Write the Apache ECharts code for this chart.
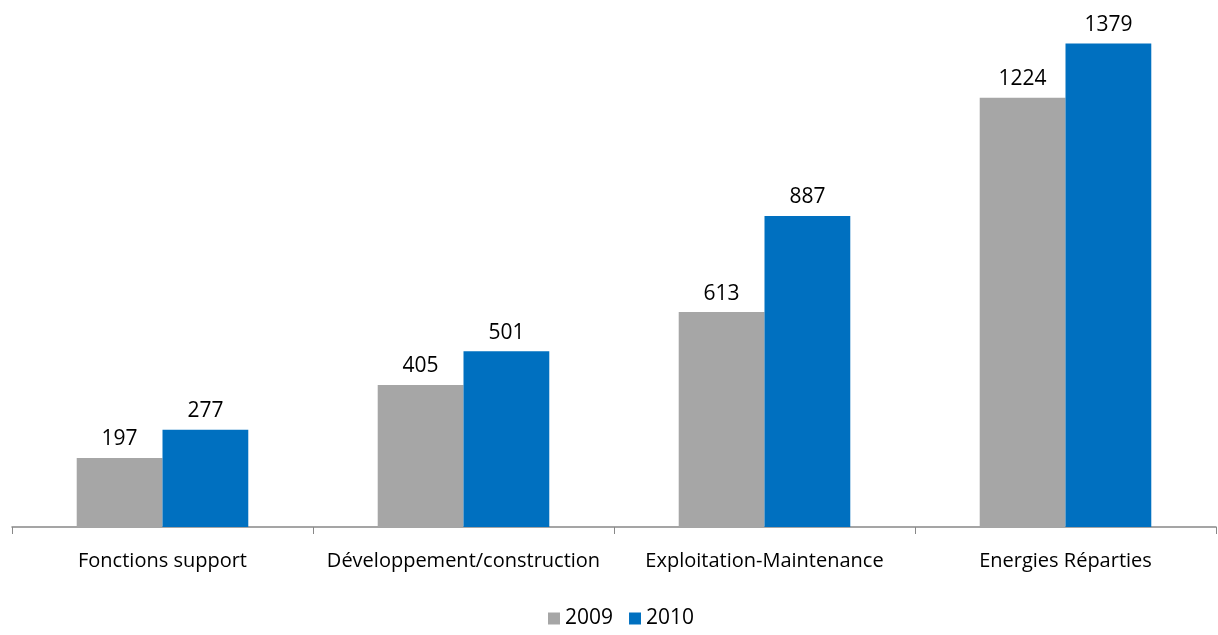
<!DOCTYPE html>
<html>
<head>
<meta charset="utf-8">
<script src="https://cdn.jsdelivr.net/npm/echarts@6/dist/echarts.min.js"></script>
<style>
  html, body { margin: 0; padding: 0; background: #fff; }
  #chart { width: 1218px; height: 635px; }
</style>
</head>
<body>
<div id="chart"></div>
<script>
// Effectifs par métier, 2009 vs 2010
const categories = ['Fonctions support', 'Développement/construction', 'Exploitation-Maintenance', 'Energies Réparties'];
const values2009 = [197, 405, 613, 1224];
const values2010 = [277, 501, 887, 1379];
const seriesNames = ['2009', '2010'];

const FONT = '"Open Sans", sans-serif';
const chart = echarts.init(document.getElementById('chart'));

const labelStyle = {
  show: true,
  position: 'top',
  distance: 8,
  color: '#000',
  fontFamily: FONT,
  fontSize: 21
};

chart.setOption({
  animation: false,
  grid: { left: 12, right: 2, top: 1, bottom: 108, containLabel: false },
  legend: {
    bottom: 1,
    left: 543,
    itemWidth: 12,
    itemHeight: 12,
    itemGap: 16,
    icon: 'rect',
    textStyle: { fontFamily: FONT, fontSize: 21, color: '#000' },
    data: seriesNames
  },
  xAxis: {
    type: 'category',
    data: categories,
    axisLine: { lineStyle: { color: '#888', width: 1.5 } },
    axisTick: { show: true, length: 7, lineStyle: { color: '#888' } },
    axisLabel: {
      interval: 0,
      color: '#000',
      fontFamily: FONT,
      fontSize: 20,
      margin: 24
    }
  },
  yAxis: {
    type: 'value',
    min: 0,
    max: 1500,
    show: false,
    splitLine: { show: false }
  },
  series: [
    {
      name: seriesNames[0],
      type: 'bar',
      data: values2009,
      barWidth: '28.5%',
      barGap: '0%',
      itemStyle: { color: '#A6A6A6' },
      label: labelStyle
    },
    {
      name: seriesNames[1],
      type: 'bar',
      data: values2010,
      barWidth: '28.5%',
      itemStyle: { color: '#0070C0' },
      label: labelStyle
    }
  ]
});
</script>
</body>
</html>
